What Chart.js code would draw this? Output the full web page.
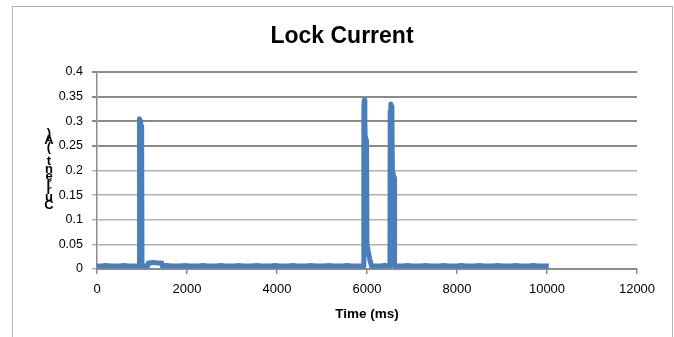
<!DOCTYPE html>
<html><head><meta charset="utf-8">
<script src="https://cdn.jsdelivr.net/npm/chart.js@4.4.1/dist/chart.umd.min.js"></script>
<style>html,body{margin:0;padding:0;background:#fff;}#wrap{width:674px;height:337px;}</style>
</head><body><div id="wrap"><canvas id="c" width="674" height="337"></canvas></div>
<script>
const chartTitle = 'Lock Current';
const xAxisTitle = 'Time (ms)';
const yAxisTitle = 'Current (A)';
const xTickLabels = ['0','2000','4000','6000','8000','10000','12000'];
const yTickLabels = ['0','0.05','0.1','0.15','0.2','0.25','0.3','0.35','0.4'];

const timeMs = [
  0,100,200,300,400,500,600,700,800,900,
  935,940,950,960,970,980,990,995,1000,
  1050,1130,1140,1250,1350,1440,1450,
  1550,1650,1750,1850,1950,2050,2150,2250,2350,2450,
  2550,2650,2750,2850,2950,3050,3150,3250,3350,3450,
  3550,3650,3750,3850,3950,4050,4150,4250,4350,4450,
  4550,4650,4750,4850,4950,5050,5150,5250,5350,5450,
  5550,5650,5750,5850,5925,
  5930,5940,5950,5955,5960,5990,6000,6060,6100,
  6200,6300,6400,6510,
  6515,6530,6545,6555,6565,6600,6610,6615,
  6700,6800,6900,7000,7100,7200,7300,7400,7500,7600,
  7700,7800,7900,8000,8100,8200,8300,8400,8500,8600,
  8700,8800,8900,9000,9100,9200,9300,9400,9500,9600,
  9700,9800,9900,10000,10040
];
const currentA = [
  0.006,0.006,0.007,0.006,0.006,0.006,0.007,0.006,0.006,0.006,
  0.006,0.295,0.305,0.300,0.250,0.290,0.270,0.270,0.006,
  0.006,0.006,0.012,0.013,0.012,0.012,0.006,
  0.007,0.006,0.006,0.006,0.007,0.006,0.006,0.006,0.007,0.006,
  0.006,0.006,0.007,0.006,0.006,0.006,0.007,0.006,0.006,0.006,
  0.007,0.006,0.006,0.006,0.007,0.006,0.006,0.006,0.007,0.006,
  0.006,0.006,0.007,0.006,0.006,0.006,0.007,0.006,0.006,0.006,
  0.007,0.006,0.006,0.006,0.006,
  0.330,0.343,0.340,0.300,0.270,0.260,0.050,0.020,0.006,
  0.006,0.006,0.007,0.006,
  0.320,0.335,0.330,0.290,0.200,0.185,0.170,0.006,
  0.006,0.006,0.007,0.006,0.006,0.006,0.007,0.006,0.006,0.006,
  0.007,0.006,0.006,0.006,0.007,0.006,0.006,0.006,0.007,0.006,
  0.006,0.006,0.007,0.006,0.006,0.006,0.007,0.006,0.006,0.006,
  0.007,0.006,0.006,0.006,0.006
];

const points = timeMs.map((t, i) => ({x: t, y: currentA[i]}));

const framePlugin = {
  id: 'frame',
  beforeDraw(chart) {
    const ctx = chart.ctx;
    ctx.save();
    ctx.fillStyle = '#fff';
    ctx.fillRect(0, 0, chart.width, chart.height);
    ctx.strokeStyle = '#b4b4b4';
    ctx.lineWidth = 1;
    ctx.strokeRect(12.5, 6.5, 660, 400);
    ctx.restore();
  }
};

const textPlugin = {
  id: 'texts',
  afterDraw(chart) {
    const ctx = chart.ctx;
    ctx.save();
    ctx.fillStyle = '#000';
    ctx.textAlign = 'center';
    ctx.textBaseline = 'middle';
    ctx.font = 'bold 23px "Liberation Sans", sans-serif';
    ctx.fillText(chartTitle, 342, 37);
    ctx.font = 'bold 13px "Liberation Sans", sans-serif';
    const chars = Array.from(yAxisTitle);
    chars.forEach((ch, i) => {
      ctx.fillText(ch, 49, 205 - i * 7.2);
    });
    ctx.restore();
  }
};

new Chart(document.getElementById('c'), {
  type: 'line',
  data: {
    datasets: [{
      data: points,
      borderColor: '#4a7ebb',
      borderWidth: 5,
      pointRadius: 0,
      tension: 0,
      fill: false,
      borderJoinStyle: 'round',
      borderCapStyle: 'butt'
    }]
  },
  options: {
    responsive: false,
    animation: false,
    devicePixelRatio: 1,
    layout: {padding: {left: 0, right: 37, top: 72, bottom: 0}},
    plugins: {
      legend: {display: false},
      tooltip: {enabled: false},
      title: {display: false}
    },
    scales: {
      x: {
        type: 'linear', min: 0, max: 12000,
        ticks: {stepSize: 2000, color: '#000', padding: 8, maxRotation: 0,
          font: {family: '"Liberation Sans", sans-serif', size: 13},
          callback: (v, i) => xTickLabels[i]},
        grid: {drawOnChartArea: false, drawTicks: true, tickLength: 5, color: '#8c8c8c', lineWidth: 1.5},
        border: {color: '#8c8c8c', width: 2},
        title: {display: true, text: xAxisTitle, color: '#000',
          font: {family: '"Liberation Sans", sans-serif', size: 13.5, weight: 'bold'},
          padding: {top: 4, bottom: 15}},
        afterFit: s => { s.height = 68; }
      },
      y: {
        min: 0, max: 0.4,
        ticks: {stepSize: 0.05, color: '#000', padding: 9,
          font: {family: '"Liberation Sans Narrow", "Liberation Sans", sans-serif', size: 12.5},
          callback: (v, i) => yTickLabels[i]},
        grid: {
          tickLength: 5,
          color: c => (c.tick && c.tick.value > 0.225) ? '#8a8a8a' : '#b0b0b0',
          lineWidth: c => (c.tick && c.tick.value > 0.225) ? 2 : 1.5
        },
        border: {color: '#8c8c8c', width: 1.5},
        afterFit: s => { s.width = 97; }
      }
    }
  },
  plugins: [framePlugin, textPlugin]
});
</script>
</body></html>
